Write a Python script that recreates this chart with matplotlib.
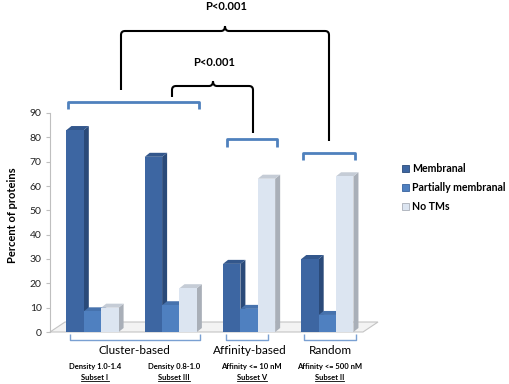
import matplotlib
matplotlib.use("Agg")
import matplotlib.pyplot as plt
from matplotlib.patches import Polygon, Patch
from matplotlib.path import Path
from matplotlib.patches import PathPatch
import numpy as np

plt.rcParams['font.family'] = ['Lato', 'DejaVu Sans']

# ---- data ----
groups = ["Cluster-based", "Cluster-based", "Affinity-based", "Random"]
subsets_criteria = ["Density 1.0-1.4", "Density 0.8-1.0", "Affinity <= 10 nM", "Affinity <= 500 nM"]
subset_names = ["Subset I", "Subset III", "Subset V", "Subset II"]
series_names = ["Membranal", "Partially membranal", "No TMs"]
membranal = [83, 72, 28, 30]
partially = [8.5, 11, 9.5, 7]
no_tms = [10, 18, 63, 64]
yticks = list(range(0, 100, 10))

front_cols = ["#3d66a2", "#4f80c0", "#dce5f1"]
side_cols = ["#2a4a79", "#37629e", "#a9afb8"]
top_cols = ["#33578c", "#4672ad", "#c5ccd6"]

W, H = 510, 384
fig = plt.figure(figsize=(W / 100, H / 100), dpi=100)
ax_l, ax_r, ax_b, ax_t = 50, 363, 332, 113
ax = fig.add_axes([ax_l / W, (H - ax_b) / H, (ax_r - ax_l) / W, (ax_b - ax_t) / H])
xmin, xmax = -0.543, 3.455
ax.set_xlim(xmin, xmax)
ax.set_ylim(0, 90)
px_x = (xmax - xmin) / (ax_r - ax_l)
px_y = 90 / (ax_b - ax_t)

# floor
fdx, fdy = 15 * px_x, 10 * px_y
floor = Polygon([(xmin, 0), (xmax, 0), (xmax + fdx, fdy), (xmin + fdx, fdy)],
                closed=True, facecolor="#f3f3f3", edgecolor="#c4c4c4", lw=0.8,
                clip_on=False, zorder=1)
ax.add_patch(floor)

bw = 0.222
x = np.arange(len(membranal))
ddx, ddy = 5 * px_x, 4 * px_y
for si, vals in enumerate([membranal, partially, no_tms]):
    xs = x + (si - 1) * bw
    ax.bar(xs, vals, width=bw, color=front_cols[si], zorder=3 + si * 0.01, lw=0)
    for xc, v in zip(xs, vals):
        x1 = xc + bw / 2
        x0 = xc - bw / 2
        ax.add_patch(Polygon([(x1, 0), (x1, v), (x1 + ddx, v + ddy), (x1 + ddx, ddy)],
                             closed=True, facecolor=side_cols[si], lw=0, zorder=2.9,
                             clip_on=False))
        ax.add_patch(Polygon([(x0, v), (x1, v), (x1 + ddx, v + ddy), (x0 + ddx, v + ddy)],
                             closed=True, facecolor=top_cols[si], lw=0, zorder=2.95,
                             clip_on=False))

for s in ["top", "right", "bottom"]:
    ax.spines[s].set_visible(False)
ax.spines["left"].set_color("#bfbfbf")
ax.set_yticks(yticks)
ax.set_xticks([])
ax.tick_params(axis="y", length=3, color="#bfbfbf", labelsize=7.5, pad=3, labelcolor="#222222")
ax.patch.set_visible(False)

# overlay in pixel coordinates
ov = fig.add_axes([0, 0, 1, 1], zorder=5)
ov.set_xlim(0, W)
ov.set_ylim(H, 0)
ov.axis("off")
ov.patch.set_visible(False)

fig.text(13 / W, 1 - 215 / H, "Percent of proteins", rotation=90, ha="center", va="center",
         fontsize=8, fontweight="bold")

# legend
handles = [Patch(facecolor=front_cols[i], edgecolor=side_cols[i], lw=0.6) for i in range(3)]
fig.legend(handles, series_names, loc="upper left", bbox_to_anchor=(397 / W, 1 - 158 / H),
           frameon=False, prop={"weight": "bold", "size": 7.6}, handlelength=0.6,
           handleheight=0.6, handletextpad=0.35, labelspacing=0.75, borderpad=0)

# curly braces (black)
def brace(x1, x2, xc, y, e1, e2, r=4, cusp=5):
    verts = [(x1, e1), (x1, y + r), (x1, y), (x1 + r, y), (xc - r, y), (xc, y), (xc, y - cusp),
             (xc, y - cusp), (xc, y), (xc + r, y), (x2 - r, y), (x2, y), (x2, y + r), (x2, e2)]
    codes = [Path.MOVETO, Path.LINETO, Path.CURVE3, Path.CURVE3, Path.LINETO, Path.CURVE3, Path.CURVE3,
             Path.MOVETO, Path.CURVE3, Path.CURVE3, Path.LINETO, Path.CURVE3, Path.CURVE3, Path.LINETO]
    ov.add_patch(PathPatch(Path(verts, codes), facecolor="none", edgecolor="black", lw=1.5))

brace(121, 329, 225, 31, 90, 141)
brace(172, 253, 213, 86, 97, 133)
ov.text(226, 7, "P<0.001", ha="center", va="center", fontsize=8, fontweight="bold")
ov.text(214, 63, "P<0.001", ha="center", va="center", fontsize=8, fontweight="bold")

# blue brackets on top
def sq(x1, x2, y, e, lw=2, color="#4f81bd"):
    ov.plot([x1, x1, x2, x2], [e, y, y, e], color=color, lw=lw, solid_joinstyle="round",
            solid_capstyle="butt")

sq(68, 199, 102, 109)
sq(227, 277, 139, 147)
sq(303, 355, 153, 160)

# bottom brackets
bc = "#7aa0d2"
sq(70, 200, 340, 334, lw=1, color=bc)
sq(226, 268, 340, 334, lw=1, color=bc)
sq(304, 356, 340, 334, lw=1, color=bc)

for cx, lab in [(134.5, "Cluster-based"), (250, "Affinity-based"), (330.7, "Random")]:
    ov.text(cx, 350, lab, ha="center", va="center", fontsize=8.5)

centers = [95, 174, 251.7, 329.3]
subtexts = []
for cx, c, s in zip(centers, subsets_criteria, subset_names):
    ov.text(cx, 367, c, ha="center", va="center", fontsize=5.5, fontweight="bold")
    subtexts.append(ov.text(cx, 377, s, ha="center", va="center", fontsize=5.5, fontweight="bold"))

fig.canvas.draw()
r = fig.canvas.get_renderer()
inv = ov.transData.inverted()
for t in subtexts:
    bb = t.get_window_extent(r)
    (xa, ya), (xb, yb) = inv.transform([(bb.x0, bb.y0), (bb.x1, bb.y1)])
    ov.plot([xa, xb], [ya + 0.3, ya + 0.3], color="black", lw=0.6)

fig.savefig("out.png", dpi=100)
